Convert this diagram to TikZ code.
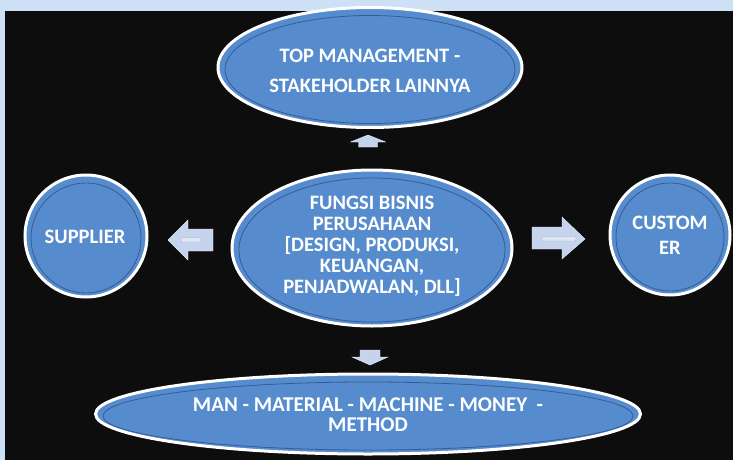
\documentclass[tikz,border=0pt]{standalone}
\usepackage{fontspec}
\setmainfont{Carlito}
\usetikzlibrary{shapes.geometric}
\definecolor{stripblue}{RGB}{205,224,246}
\definecolor{bgblack}{RGB}{13,13,13}
\definecolor{ovalblue}{RGB}{86,140,205}
\definecolor{ringblue}{RGB}{52,92,150}
\definecolor{arrowfill}{RGB}{197,211,236}
\definecolor{arrowhi}{RGB}{232,238,248}
\definecolor{arrowbar}{RGB}{165,178,200}
\tikzset{
  oval/.style={ellipse, fill=ovalblue, draw=white, line width=3pt, inner sep=0pt,
    text=white, align=center, font=\bfseries\fontsize{20.5}{21}\selectfont},
  ring/.style={ellipse, draw=ringblue, line width=0.8pt, inner sep=0pt},
  blockarrow/.style={fill=arrowfill, draw=arrowhi, line width=0.4pt},
  arrowshine/.style={fill=arrowhi!70!arrowfill, draw=arrowbar, line width=0.4pt, rounded corners=1pt},
}
\begin{document}
\begin{tikzpicture}[x=1pt,y=-1pt]
\useasboundingbox (0,0) rectangle (733,460);
\fill[stripblue] (0,0) rectangle (733,460);
\fill[bgblack] (5,11) rectangle (733,460);

% top
\node[oval, minimum width=304pt, minimum height=120pt] (top) at (370,67.5) {};
\node[ring, minimum width=290pt, minimum height=108pt] (topr) at (370,69.5) {};
\node[text=white, align=center, font=\bfseries\fontsize{20.5}{30}\selectfont] (toptxt) at (370,70.5) {TOP MANAGEMENT -\\STAKEHOLDER LAINNYA};
% center
\node[oval, minimum width=280pt, minimum height=156pt] (mid) at (372,248) {};
\node[ring, minimum width=266pt, minimum height=144pt] (midr) at (372,250) {};
\node[text=white, align=center, font=\bfseries\fontsize{20.5}{21}\selectfont] (midtxt) at (372,246.5) {FUNGSI BISNIS\\PERUSAHAAN\\{[}DESIGN, PRODUKSI,\\KEUANGAN,\\PENJADWALAN, DLL{]}};
% supplier
\node[oval, circle, minimum size=122pt] (sup) at (86,236) {};
\node[ring, circle, minimum size=110pt] (supr) at (86,238) {};
\node[text=white, font=\bfseries\fontsize{20.5}{21}\selectfont] (suptxt) at (85,237) {SUPPLIER};
% customer
\node[oval, circle, minimum size=120pt] (cus) at (670,235) {};
\node[ring, circle, minimum size=108pt] (cusr) at (670,237) {};
\node[text=white, align=center, font=\bfseries\fontsize{20.5}{25}\selectfont] (custxt) at (670,235) {CUSTOM\\ER};
% bottom
\node[oval, minimum width=545pt, minimum height=80pt] (bot) at (368,414) {};
\node[ring, minimum width=530pt, minimum height=68pt] (botr) at (368,416) {};
\node[text=white, align=center, font=\bfseries\fontsize{21}{20}\selectfont] (bottxt) at (368,415) {MAN - MATERIAL - MACHINE - MONEY \ -\\METHOD};

% block arrows
\coordinate (upA) at (368,135);
\coordinate (leftA) at (168,240);
\coordinate (rightA) at (585,239);
\coordinate (downA) at (370,365);
\draw[blockarrow] (upA) -- ++(17.5,7) -- ++(-8,0) -- ++(0,5) -- ++(-19,0) -- ++(0,-5) -- ++(-8,0) -- cycle;
\draw[blockarrow] (leftA) -- ++(20,-20) -- ++(0,9) -- ++(25,0) -- ++(0,22) -- ++(-25,0) -- ++(0,9) -- cycle;
\draw[arrowshine] (leftA) ++(13,-2.5) rectangle ++(20,4.5);
\draw[blockarrow] (rightA) -- ++(-23,-22) -- ++(0,10) -- ++(-30,0) -- ++(0,22) -- ++(30,0) -- ++(0,10) -- cycle;
\draw[arrowshine] (rightA) ++(-9,-2.5) rectangle ++(-34,4.5);
\draw[blockarrow] (downA) -- ++(18,-8) -- ++(-8,0) -- ++(0,-7) -- ++(-20,0) -- ++(0,7) -- ++(-8,0) -- cycle;
\end{tikzpicture}
\end{document}
